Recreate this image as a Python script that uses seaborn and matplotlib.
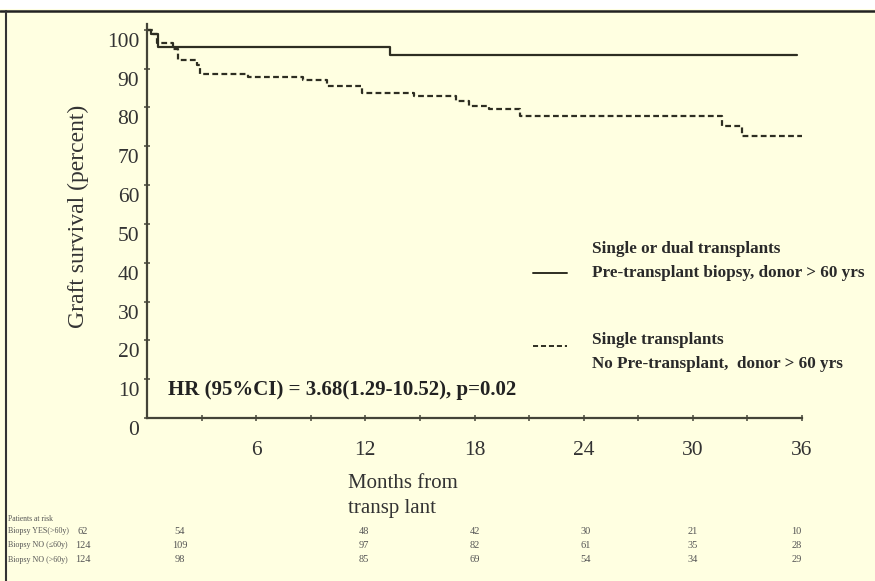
import matplotlib
matplotlib.use("Agg")
import matplotlib.pyplot as plt
import matplotlib.transforms as mtransforms
from matplotlib.patches import Rectangle
from matplotlib.lines import Line2D
import numpy as np
import pandas as pd
import seaborn as sns

# ---- data ----
solid_months = [0, 0.2, 0.6, 13.35, 35.7]
solid_surv = [100, 99, 95.6, 93.5, 93.5]
dashed_months = [0, 0.33, 0.55, 1.43, 1.7, 2.75, 2.9, 5.55, 8.57, 9.9, 11.8, 14.7,
                 17.0, 17.7, 18.8, 20.5, 31.6, 32.7, 36]
dashed_surv = [100, 99, 96.6, 95, 92.2, 91, 88.6, 87.8, 87, 85.5, 83.7, 83,
               81.7, 80.4, 79.6, 77.8, 75.2, 72.6, 72.6]
x_ticks = [6, 12, 18, 24, 30, 36]
y_ticks = [0, 10, 20, 30, 40, 50, 60, 70, 80, 90, 100]
risk_labels = ["Biopsy YES(>60y)", "Biopsy NO (\u226460y)", "Biopsy NO (>60y)"]
risk_yes = [62, 54, 48, 42, 30, 21, 10]
risk_no_le60 = [124, 109, 97, 82, 61, 35, 28]
risk_no_gt60 = [124, 98, 85, 69, 54, 34, 29]
legend_solid = ["Single or dual transplants", "Pre-transplant biopsy, donor > 60 yrs"]
legend_dashed = ["Single transplants", "No Pre-transplant,  donor > 60 yrs"]
hr_text = "HR (95%CI) = 3.68(1.29-10.52), p=0.02"

# layout (column x positions in month units for risk table)
risk_cols = [-3.55, 1.8, 11.9, 18.0, 24.1, 30.0, 35.7]

sns.set_theme(style="ticks")
plt.rcParams["font.family"] = ["Liberation Serif", "DejaVu Serif"]

BG = "#FFFFE1"
INK = "#2e2e22"
W, H = 875, 581
fig = plt.figure(figsize=(W / 100, H / 100), dpi=100, facecolor=BG)

# frame: white top strip, top and left dark lines
fig.patches.append(Rectangle((0, 1 - 9 / H), 1, 9 / H, transform=fig.transFigure,
                             facecolor="white", edgecolor="none", zorder=0))
fig.lines.append(Line2D([0, 1], [1 - 10.5 / H, 1 - 10.5 / H], transform=fig.transFigure,
                        color="#222222", lw=1.8))
fig.lines.append(Line2D([5.5 / W, 5.5 / W], [0, 1 - 10.5 / H], transform=fig.transFigure,
                        color="#333333", lw=1.5))

x0, x1 = 147, 802
ybot, ytop = 418, 24
ax = fig.add_axes([x0 / W, 1 - ybot / H, (x1 - x0) / W, (ybot - ytop) / H])
ax.set_facecolor("none")

df_s = pd.DataFrame({"m": solid_months, "s": solid_surv})
df_d = pd.DataFrame({"m": dashed_months, "s": dashed_surv})
sns.lineplot(data=df_s, x="m", y="s", ax=ax, estimator=None, drawstyle="steps-post",
             color=INK, lw=1.6)
sns.lineplot(data=df_d, x="m", y="s", ax=ax, estimator=None, drawstyle="steps-post",
             color=INK, lw=1.6, dashes=False, linestyle=(0, (2.6, 1.5)))

ax.set_xlim(0, 36)
ax.set_ylim(0, 101.5)
sns.despine(ax=ax)
for sp in ("left", "bottom"):
    ax.spines[sp].set_color("#444438")
    ax.spines[sp].set_linewidth(1.6)

ax.set_xticks(x_ticks)
ax.set_xticks([3, 9, 15, 21, 27, 33], minor=True)
ax.set_yticks(y_ticks)
ax.tick_params(axis="both", which="both", direction="inout", length=5, width=1.2,
               color="#555548")
ax.tick_params(axis="x", which="major", pad=14, labelsize=15.5, labelcolor="#333")
ax.tick_params(axis="y", which="major", pad=3, labelsize=15.5, labelcolor="#333")
off = mtransforms.ScaledTranslation(0, -10 / 100, fig.dpi_scale_trans)
for lab in ax.get_yticklabels():
    lab.set_transform(lab.get_transform() + off)

ax.set_xlabel("")
ax.set_ylabel("")
fig.text(78 / W, 1 - 216 / H, "Graft survival (percent)", rotation=90, ha="center",
         va="center", fontsize=17, color="#333")
fig.text(348 / W, 1 - 483 / H, "Months from", ha="left", va="center", fontsize=15,
         color="#333")
fig.text(348 / W, 1 - 508 / H, "transp lant", ha="left", va="center", fontsize=15,
         color="#333")

ax.text(168 / W, 1 - 390 / H, hr_text, transform=fig.transFigure, ha="left",
        va="center", fontsize=15, fontweight="bold", color="#222")

# legend-like annotations
seg_x = [533 / W, 567 / W]
fig.lines.append(Line2D(seg_x, [1 - 273 / H] * 2, transform=fig.transFigure,
                        color=INK, lw=1.4))
fig.lines.append(Line2D(seg_x, [1 - 346 / H] * 2, transform=fig.transFigure,
                        color=INK, lw=1.4, linestyle=(0, (2.6, 1.5))))
for txt, yy in zip(legend_solid, [249, 273]):
    fig.text(592 / W, 1 - yy / H, txt, ha="left", va="center", fontsize=12.3,
             fontweight="bold", color="#2a2a2a")
for txt, yy in zip(legend_dashed, [340, 364]):
    fig.text(592 / W, 1 - yy / H, txt, ha="left", va="center", fontsize=12.3,
             fontweight="bold", color="#2a2a2a")

# patients at risk table
fig.text(8 / W, 1 - 519 / H, "Patients at risk", ha="left", va="center", fontsize=5.5,
         color="#555")
row_y = [531, 545, 560]
for lab, vals, yy in zip(risk_labels, [risk_yes, risk_no_le60, risk_no_gt60], row_y):
    fig.text(8 / W, 1 - yy / H, lab, ha="left", va="center", fontsize=5.8, color="#555")
    for cx, v in zip(risk_cols, vals):
        px = x0 + (x1 - x0) * cx / 36
        fig.text(px / W, 1 - yy / H, str(v), ha="center", va="center", fontsize=7.5,
                 color="#555")

fig.savefig("out.png", dpi=100, facecolor=BG)
